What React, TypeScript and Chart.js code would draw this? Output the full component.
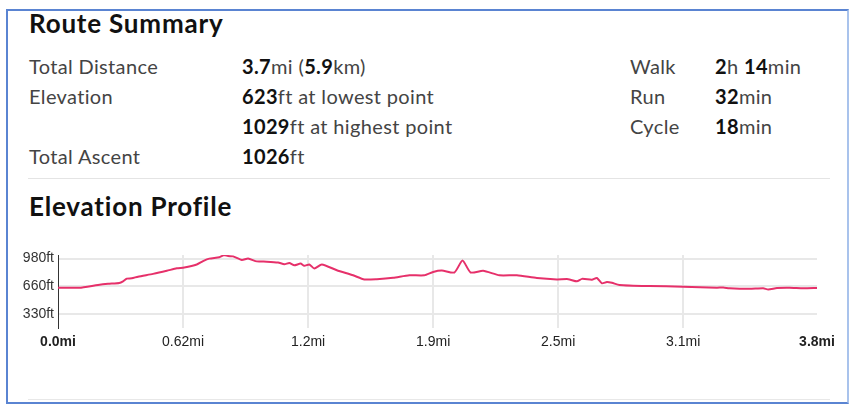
import React, { useEffect, useRef } from "react";
import { Chart, registerables } from "chart.js";

Chart.register(...registerables);

// Elevation profile: distance in km, elevation in metres
const distanceKm = [
  0.0, 0.17, 0.32, 0.4, 0.49, 0.52, 0.55, 0.59, 0.64, 0.76, 0.87, 0.95, 1.01, 1.11, 1.16, 1.21,
  1.29, 1.33, 1.36, 1.4, 1.47, 1.52, 1.59, 1.67, 1.76, 1.81, 1.85, 1.89, 1.94, 1.97, 2.01, 2.05,
  2.11, 2.23, 2.36, 2.45, 2.55, 2.68, 2.81, 2.93, 3.0, 3.07, 3.17, 3.235, 3.3, 3.4, 3.53, 3.67,
  3.83, 3.99, 4.08, 4.15, 4.19, 4.27, 4.31, 4.35, 4.39, 4.43, 4.49, 4.73, 5.0, 5.27, 5.32, 5.37,
  5.53, 5.64, 5.68, 5.75, 5.85, 5.96, 6.07,
];
const elevationM = [
  195, 195, 205, 209, 212, 218, 228, 229, 235, 245, 256, 265, 268, 279, 291, 300,
  305, 313, 309, 308, 295, 300, 290, 289, 286, 280, 284, 276, 282, 274, 279, 264,
  279, 258, 240, 225, 226, 231, 240, 240, 252, 257, 250, 293, 250, 256, 240, 240,
  230, 225, 226, 218, 227, 224, 230, 211, 216, 213, 205, 201, 199, 195, 196, 193,
  191, 193, 189, 194, 195, 193, 194,
];

const xTickValues = [0, 1, 2, 3, 4, 5, 6.07];
const xTickLabels = ["0.0mi", "0.62mi", "1.2mi", "1.9mi", "2.5mi", "3.1mi", "3.8mi"];
const yTickValues = [100, 200, 300];
const yTickLabels = ["330ft", "660ft", "980ft"];
const yMin = 50;
const yMax = 313;

const summaryLabels = ["Total Distance", "Elevation", "", "Total Ascent"];
const summaryValues: [string, string][][] = [
  [["3.7", "b"], ["mi (", "r"], ["5.9", "b"], ["km)", "r"]],
  [["623", "b"], ["ft at lowest point", "r"]],
  [["1029", "b"], ["ft at highest point", "r"]],
  [["1026", "b"], ["ft", "r"]],
];
const timeLabels = ["Walk", "Run", "Cycle"];
const timeValues: [string, string][][] = [
  [["2", "b"], ["h ", "r"], ["14", "b"], ["min", "r"]],
  [["32", "b"], ["min", "r"]],
  [["18", "b"], ["min", "r"]],
];

const FONT = "Lato, 'Noto Sans', sans-serif";

function Rich({ parts }: { parts: [string, string][] }) {
  return (
    <>
      {parts.map((p, i) => (
        <span key={i} style={{ fontWeight: p[1] === "b" ? 700 : 400, color: p[1] === "b" ? "#111" : "#444" }}>
          {p[0]}
        </span>
      ))}
    </>
  );
}

function ElevationChart() {
  const ref = useRef<HTMLCanvasElement | null>(null);
  useEffect(() => {
    if (!ref.current) return;
    const last = xTickValues.length - 1;
    const chart = new Chart(ref.current, {
      type: "line",
      data: {
        datasets: [
          {
            data: distanceKm.map((d, i) => ({ x: d, y: elevationM[i] })),
            borderColor: "#e6306a",
            borderWidth: 2,
            pointRadius: 0,
            tension: 0.2,
            fill: false,
          },
        ],
      },
      options: {
        animation: false,
        responsive: false,
        devicePixelRatio: 1,
        layout: { padding: { left: 0, right: 32, top: 15, bottom: 0 } },
        plugins: { legend: { display: false }, tooltip: { enabled: false } },
        scales: {
          x: {
            type: "linear",
            min: 0,
            max: 6.07,
            afterBuildTicks: (s: any) => {
              s.ticks = xTickValues.map((v) => ({ value: v }));
            },
            afterFit: (s: any) => {
              s.height = 32;
            },
            border: { display: false },
            grid: {
              drawTicks: false,
              lineWidth: 2,
              color: (ctx: any) => (ctx.index === last || ctx.index === 0 ? "rgba(0,0,0,0)" : "#e8e8e8"),
            },
            ticks: {
              autoSkip: false,
              maxRotation: 0,
              padding: 6,
              color: "#222",
              font: (ctx: any) => ({
                family: "'Liberation Sans', Arial, sans-serif",
                size: 14,
                weight: ctx.index === 0 || ctx.index === last ? "bold" : "normal",
              }),
              callback: (_v: any, i: number) => xTickLabels[i],
            },
          },
          y: {
            type: "linear",
            min: yMin,
            max: yMax,
            afterBuildTicks: (s: any) => {
              s.ticks = yTickValues.map((v) => ({ value: v }));
            },
            afterFit: (s: any) => {
              s.width = 58;
            },
            border: { display: true, color: "#333", width: 1 },
            grid: { drawTicks: false, lineWidth: 2, color: "#e8e8e8" },
            ticks: {
              padding: 4,
              color: "#333",
              font: { family: "'Liberation Sans', Arial, sans-serif", size: 14 },
              callback: (_v: any, i: number) => yTickLabels[i],
            },
          },
        },
      },
    });
    return () => chart.destroy();
  }, []);
  return <canvas ref={ref} width={849} height={120} style={{ display: "block", width: 849, height: 120 }} />;
}

export default function App() {
  const abs = (l: number, t: number, extra: React.CSSProperties = {}): React.CSSProperties => ({
    position: "absolute",
    left: l,
    top: t,
    whiteSpace: "nowrap",
    ...extra,
  });
  const rowTops = [54, 84, 114, 144];
  const rowStyle: React.CSSProperties = { fontSize: 20, lineHeight: "24px", letterSpacing: "0.35px" };
  const titleStyle: React.CSSProperties = { fontSize: 26, lineHeight: "31px", fontWeight: 700, color: "#111", letterSpacing: "0.8px" };
  return (
    <div style={{ position: "fixed", left: 0, top: 0, width: 849, height: 405, background: "#fff", fontFamily: FONT, overflow: "hidden" }}>
      <div
        style={{
          position: "absolute",
          left: 6,
          top: 9,
          width: 843,
          height: 395,
          boxSizing: "border-box",
          borderLeft: "2px solid #5a84d2",
          borderTop: "2px solid #5a84d2",
          borderBottom: "2px solid #5a84d2",
          borderRight: "2px solid #a9c3ec",
        }}
      />
      <div style={abs(29, 8, titleStyle)}>Route Summary</div>
      {summaryLabels.map((l, i) => (
        <div key={"l" + i} style={abs(29, rowTops[i], { ...rowStyle, color: "#444" })}>
          {l}
        </div>
      ))}
      {summaryValues.map((v, i) => (
        <div key={"v" + i} style={abs(242, rowTops[i], rowStyle)}>
          <Rich parts={v} />
        </div>
      ))}
      {timeLabels.map((l, i) => (
        <div key={"t" + i} style={abs(630, rowTops[i], { ...rowStyle, color: "#444" })}>
          {l}
        </div>
      ))}
      {timeValues.map((v, i) => (
        <div key={"tv" + i} style={abs(715, rowTops[i], rowStyle)}>
          <Rich parts={v} />
        </div>
      ))}
      <div style={abs(28, 178, { width: 802, height: 1, background: "#e4e4e4" })} />
      <div style={abs(29, 191, titleStyle)}>Elevation Profile</div>
      <div style={abs(0, 240)}>
        <ElevationChart />
      </div>
      <div style={abs(28, 399, { width: 802, height: 1, background: "#e8e8e8" })} />
    </div>
  );
}
